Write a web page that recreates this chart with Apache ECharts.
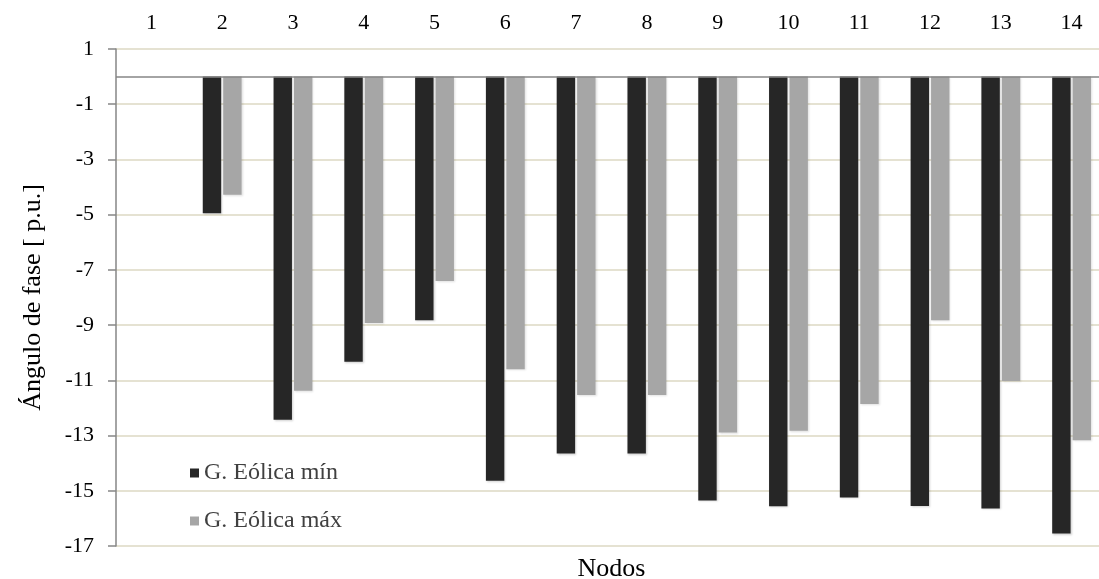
<!DOCTYPE html>
<html>
<head>
<meta charset="utf-8">
<script src="https://cdn.jsdelivr.net/npm/echarts@6/dist/echarts.min.js"></script>
<style>html,body{margin:0;padding:0;background:#fff}#c{width:1099px;height:579px}</style>
</head>
<body>
<div id="c"></div>
<script>
const categories = ['1','2','3','4','5','6','7','8','9','10','11','12','13','14'];
const seriesNames = ['G. Eólica mín', 'G. Eólica máx'];
const minVals = [0, -4.95, -12.43, -10.33, -8.82, -14.64, -13.65, -13.65, -15.35, -15.56, -15.24, -15.55, -15.64, -16.55];
const maxVals = [0, -4.28, -11.38, -8.92, -7.40, -10.60, -11.53, -11.53, -12.89, -12.83, -11.86, -8.82, -11.02, -13.17];
const yMin = -17, yMax = 1, yStep = 2;

const FONT = '"Liberation Serif", "Times New Roman", serif';
const chart = echarts.init(document.getElementById('c'), null, {renderer: 'canvas'});
chart.setOption({
  animation: false,
  backgroundColor: '#ffffff',
  grid: {left: 116, top: 49, width: 991, bottom: 33, containLabel: false, outerBoundsMode: 'none'},
  legend: {
    orient: 'vertical', left: 185, top: 456,
    itemWidth: 9, itemHeight: 9, itemGap: 24,
    icon: 'rect',
    textStyle: {fontFamily: FONT, fontSize: 24, lineHeight: 24, color: '#404040'},
    data: seriesNames
  },
  xAxis: [{
    type: 'category', position: 'top', data: categories,
    axisLine: {show: false}, axisTick: {show: false},
    axisLabel: {fontFamily: FONT, fontSize: 22, color: '#000', margin: 15},
    splitLine: {show: false}
  }, {
    type: 'category', position: 'bottom', data: categories,
    axisLine: {show: false}, axisTick: {show: false}, axisLabel: {show: false},
    splitLine: {show: false},
    name: 'Nodos', nameLocation: 'middle', nameGap: 10,
    nameTextStyle: {fontFamily: FONT, fontSize: 26, color: '#000', verticalAlign: 'top'}
  }],
  yAxis: {
    type: 'value', min: yMin, max: yMax, interval: yStep,
    name: 'Ángulo de fase [ p.u.]', nameLocation: 'middle', nameGap: 70, nameRotate: 90,
    nameTextStyle: {fontFamily: FONT, fontSize: 26, color: '#000'},
    axisLine: {show: true, lineStyle: {color: '#868686', width: 1.5}},
    axisTick: {show: true, inside: false, length: 8, lineStyle: {color: '#868686', width: 1.5}},
    axisLabel: {fontFamily: FONT, fontSize: 22, color: '#000', margin: 22},
    splitLine: {show: true, lineStyle: {color: '#ddd9c3', width: 1.5}}
  },
  series: [{
    name: seriesNames[0], type: 'bar', data: minVals,
    barWidth: '26%', barGap: '11%',
    itemStyle: {color: '#262626', shadowColor: 'rgba(0,0,0,0.18)', shadowBlur: 2, shadowOffsetX: 1, shadowOffsetY: 1},
    markLine: {
      silent: true, symbol: 'none', label: {show: false},
      lineStyle: {color: '#868686', width: 1.5, type: 'solid'},
      data: [{yAxis: 0}]
    }
  }, {
    name: seriesNames[1], type: 'bar', data: maxVals,
    barWidth: '26%', barGap: '11%',
    itemStyle: {color: '#a6a6a6', shadowColor: 'rgba(0,0,0,0.12)', shadowBlur: 2, shadowOffsetX: 1, shadowOffsetY: 1}
  }]
});
</script>
</body>
</html>
